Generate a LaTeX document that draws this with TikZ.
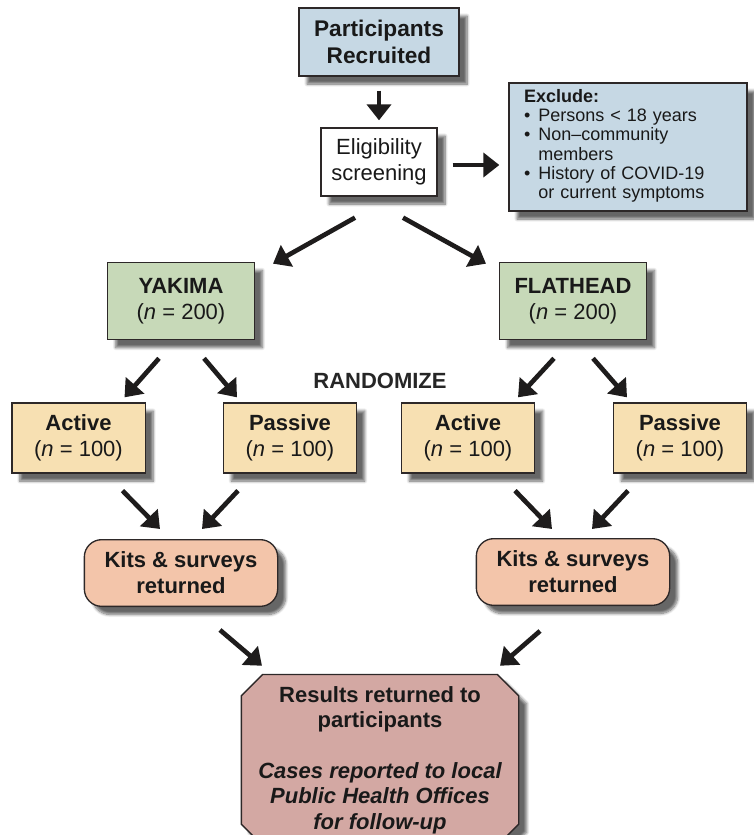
\documentclass[tikz,border=0pt]{standalone}
\usepackage{fontspec}
\setmainfont{Liberation Sans}
\usetikzlibrary{arrows.meta,calc,shapes.misc,shadows.blur}
\definecolor{edgegrey}{RGB}{45,40,40}
\definecolor{arrowblack}{RGB}{30,28,28}
\definecolor{recruitblue}{RGB}{198,216,228}
\definecolor{sitegreen}{RGB}{199,217,184}
\definecolor{armtan}{RGB}{247,224,178}
\definecolor{kitsalmon}{RGB}{243,197,170}
\definecolor{resultrose}{RGB}{211,168,163}
\tikzset{
  basebox/.style={draw=edgegrey,line width=1pt,align=center,inner sep=4pt,
    text=black!90,
    blur shadow={shadow xshift=6pt,shadow yshift=-6pt,shadow blur steps=8,
      shadow opacity=60}},
  bluebox/.style={basebox,fill=recruitblue},
  screenbox/.style={basebox,fill=white,font=\fontsize{16.5}{19.5}\selectfont},
  sitebox/.style={basebox,fill=sitegreen,minimum width=110pt,minimum height=58pt,
    font=\fontsize{16.5}{19.5}\selectfont},
  armbox/.style={basebox,fill=armtan,minimum width=100pt,minimum height=52.5pt,
    font=\fontsize{16.5}{19.5}\selectfont},
  kitbox/.style={basebox,fill=kitsalmon,rounded corners=13pt,minimum width=145pt,
    minimum height=50pt,font=\bfseries\fontsize{16.5}{19.5}\selectfont},
  resultbox/.style={basebox,fill=resultrose,chamfered rectangle,
    chamfered rectangle xsep=7pt,chamfered rectangle ysep=9pt,inner ysep=0pt,
    minimum width=208pt,minimum height=80pt,
    font=\bfseries\fontsize{16.5}{19}\selectfont},
  flow/.style={-{Triangle[width=18pt,length=12pt]},line width=3.5pt,draw=arrowblack}
}

\begin{document}
\begin{tikzpicture}[x=0.75pt,y=-0.75pt]
  \useasboundingbox (0,0) rectangle (753,835);
  % top of the chart
  \node[bluebox,minimum width=120pt,minimum height=51pt,
    font=\bfseries\fontsize{17}{20}\selectfont] (recruit) at (379,42)
    {Participants\\Recruited};
  \node[screenbox,minimum width=87pt,minimum height=51pt] (screen) at (379,162)
    {Eligibility\\screening};
  \node[bluebox,minimum width=178.5pt,minimum height=96pt,inner xsep=10pt,
    text width=156pt,align=left,font=\fontsize{13.5}{14.5}\selectfont] (exclude) at (628,147)
    {\textbf{Exclude:}\\
     \begin{tabular}[t]{@{}l@{\hspace{6pt}}l@{}}
       \textbullet & Persons < 18 years\\
       \textbullet & Non–community\\
                   & members\\
       \textbullet & History of COVID-19\\
                   & or current symptoms
     \end{tabular}};
  % sites
  \node[sitebox] (yakima) at (181,301) {\textbf{YAKIMA}\\(\textit{n} = 200)};
  \node[sitebox] (flathead) at (573,301) {\textbf{FLATHEAD}\\(\textit{n} = 200)};
  \node[font=\bfseries\fontsize{16.5}{19.5}\selectfont,text=black!85] (randomize)
    at (380,381) {RANDOMIZE};
  % arms
  \node[armbox] (yactive) at (78.5,438) {\textbf{Active}\\(\textit{n} = 100)};
  \node[armbox] (ypassive) at (290,438) {\textbf{Passive}\\(\textit{n} = 100)};
  \node[armbox] (factive) at (468,438) {\textbf{Active}\\(\textit{n} = 100)};
  \node[armbox] (fpassive) at (680,438) {\textbf{Passive}\\(\textit{n} = 100)};
  % returns
  \node[kitbox] (ykits) at (181,573) {Kits \& surveys\\returned};
  \node[kitbox] (fkits) at (573,572) {Kits \& surveys\\returned};
  \node[resultbox] (results) at (380,760)
    {Results returned to\\participants\\[19pt]
     \itshape Cases reported to local\\\itshape Public Health Offices\\
     \itshape for follow-up};
  % arrows
  \draw[flow] ($(recruit.south)+(0,14)$) -- ($(screen.north)+(0,-7)$);
  \draw[flow] ($(screen.east)+(15,3)$) -- ($(exclude.west)+(-9,18)$);
  \draw[flow] ($(screen.south)+(-24,21)$) -- ($(yakima.north)+(92,2)$);
  \draw[flow] ($(screen.south)+(24,21)$) -- ($(flathead.north)+(-87,2)$);
  \draw[flow] ($(yakima.south)+(-22,18)$) -- ($(yactive.north)+(46,-5)$);
  \draw[flow] ($(yakima.south)+(23,18)$) -- ($(ypassive.north)+(-53,-5)$);
  \draw[flow] ($(flathead.south)+(-19,18)$) -- ($(factive.north)+(50,-5)$);
  \draw[flow] ($(flathead.south)+(20,18)$) -- ($(fpassive.north)+(-53,-5)$);
  \draw[flow] ($(yactive.south)+(44,17)$) -- ($(ykits.north)+(-21,-10)$);
  \draw[flow] ($(ypassive.south)+(-52,17)$) -- ($(ykits.north)+(21,-10)$);
  \draw[flow] ($(factive.south)+(47,17)$) -- ($(fkits.north)+(-21,-9)$);
  \draw[flow] ($(fpassive.south)+(-52,17)$) -- ($(fkits.north)+(19,-9)$);
  \draw[flow] ($(ykits.south)+(39,23)$) -- ($(results.north)+(-118,-8)$);
  \draw[flow] ($(fkits.south)+(-33,25)$) -- ($(results.north)+(120,-8)$);
\end{tikzpicture}
\end{document}
